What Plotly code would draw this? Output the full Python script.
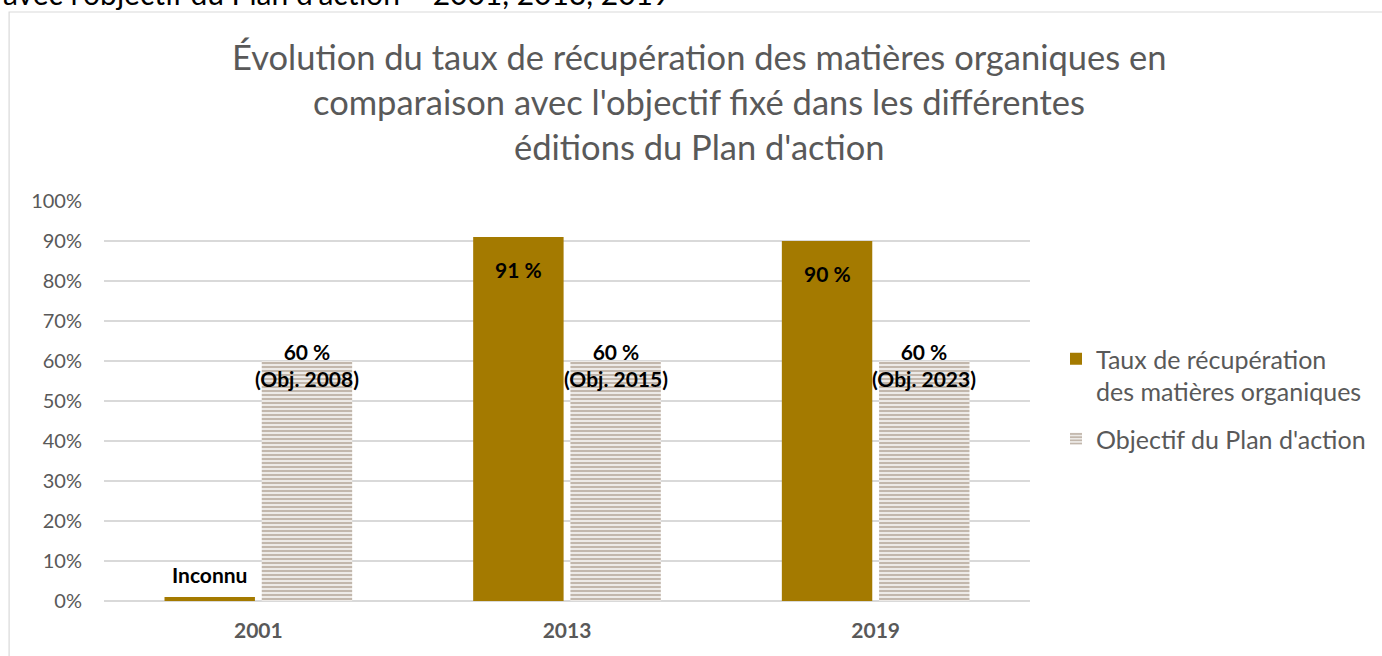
import plotly.graph_objects as go

# ---- data ----
years = ["2001", "2013", "2019"]
taux = [1, 91, 90]                      # 2001: unknown, shown as a thin sliver
taux_labels = ["Inconnu", "91 %", "90 %"]
objectif = [60, 60, 60]
objectif_labels = ["60 %<br>(Obj. 2008)", "60 %<br>(Obj. 2015)", "60 %<br>(Obj. 2023)"]
y_ticks = list(range(0, 101, 10))
y_tick_text = [f"{v}%" for v in y_ticks]

title_lines = [
    "Évolution du taux de récupération des matières organiques en",
    "comparaison avec l'objectif fixé dans les différentes",
    "éditions du Plan d'action",
]
top_cut_text = "avec l'objectif du Plan d'action – 2001, 2013, 2019"
series_names = ["Taux de récupération<br>des matières organiques", "Objectif du Plan d'action"]

GOLD = "#A47A00"
STRIPE = "#86705A"
GREY = "#595959"
FONT = "Lato"

W, H = 1382, 656
L, R, T, B = 104, 351, 201, 55
PW, PH = W - L - R, H - T - B


def px_x(p):
    return (p - L) / PW


def px_y(p):
    return (H - B - p) / PH


fig = go.Figure()
fig.add_trace(go.Bar(
    x=years, y=taux, name=series_names[0], legendgroup="taux",
    marker=dict(color=GOLD, line=dict(width=0)),
))
fig.add_trace(go.Bar(
    x=years, y=objectif, name=series_names[1], legendgroup="obj",
    marker=dict(color="white", line=dict(width=0),
                pattern=dict(shape="-", fgcolor=STRIPE, bgcolor="white",
                             size=4, solidity=0.65)),
))

bargap, groupgap = 0.37, 0.07
cat_px = PW / len(years)
slot_px = cat_px * (1 - bargap) / 2
offset = slot_px / 2

LABEL_FONT = dict(family=FONT, size=21, color="black")
annotations = []
for i, yr in enumerate(years):
    if taux[i] < 10:
        annotations.append(dict(x=i, y=taux[i], xref="x", yref="y", text="<b>" + taux_labels[i] + "</b>",
                                showarrow=False, xshift=-offset, yanchor="bottom", yshift=8,
                                font=LABEL_FONT))
    else:
        annotations.append(dict(x=i, y=taux[i], xref="x", yref="y", text="<b>" + taux_labels[i] + "</b>",
                                showarrow=False, xshift=-offset, yanchor="top", yshift=-18,
                                font=LABEL_FONT))
    annotations.append(dict(x=i, y=objectif[i], xref="x", yref="y",
                            text="<b>" + objectif_labels[i] + "</b>",
                            showarrow=False, xshift=offset, yanchor="middle", yshift=-4,
                            font=LABEL_FONT))

for j, line in enumerate(title_lines):
    annotations.append(dict(x=px_x(700), y=px_y([57, 101, 146][j]), xref="paper", yref="paper",
                            text=line, showarrow=False, xanchor="center", yanchor="middle",
                            font=dict(family=FONT, size=34.5, color=GREY)))

annotations.append(dict(x=px_x(1), y=px_y(-7), xref="paper", yref="paper", text=top_cut_text,
                        showarrow=False, xanchor="left", yanchor="middle",
                        font=dict(family=FONT, size=30, color="black")))

shapes = [dict(type="rect", xref="paper", yref="paper",
               x0=px_x(9), x1=px_x(W + 20), y0=px_y(H + 20), y1=px_y(12),
               line=dict(color="#D9D9D9", width=1.2), fillcolor="rgba(0,0,0,0)", layer="below")]

fig.update_layout(
    width=W, height=H,
    margin=dict(l=L, r=R, t=T, b=B),
    paper_bgcolor="white", plot_bgcolor="white",
    barmode="group", bargap=bargap, bargroupgap=groupgap,
    font=dict(family=FONT, color=GREY),
    showlegend=True,
    legend=dict(x=px_x(1056), y=px_y(336), xanchor="left", yanchor="top",
                font=dict(family=FONT, size=25, color=GREY), valign="top",
                tracegroupgap=12, bgcolor="rgba(0,0,0,0)"),
    annotations=annotations,
    shapes=shapes,
    xaxis=dict(type="category", categoryorder="array", categoryarray=years,
               range=[-0.5, len(years) - 0.5], autorange=False,
               tickmode="array", tickvals=years, ticktext=["<b>" + y + "</b>" for y in years],
               showgrid=False, showline=False, zeroline=False,
               ticks="outside", ticklen=11, tickcolor="rgba(0,0,0,0)",
               tickfont=dict(family=FONT, size=21, color=GREY)),
    yaxis=dict(range=[0, 100], tickmode="array", tickvals=y_ticks, ticktext=y_tick_text,
               showgrid=True, gridcolor="#D9D9D9", gridwidth=1.5,
               zeroline=True, zerolinecolor="#D9D9D9", zerolinewidth=1.5,
               showline=False, ticks="outside", ticklen=17, tickcolor="rgba(0,0,0,0)",
               tickfont=dict(family=FONT, size=20, color=GREY)),
)

fig.write_html("out.html", post_script="document.body.style.margin='0';",
               config={"displayModeBar": False})
